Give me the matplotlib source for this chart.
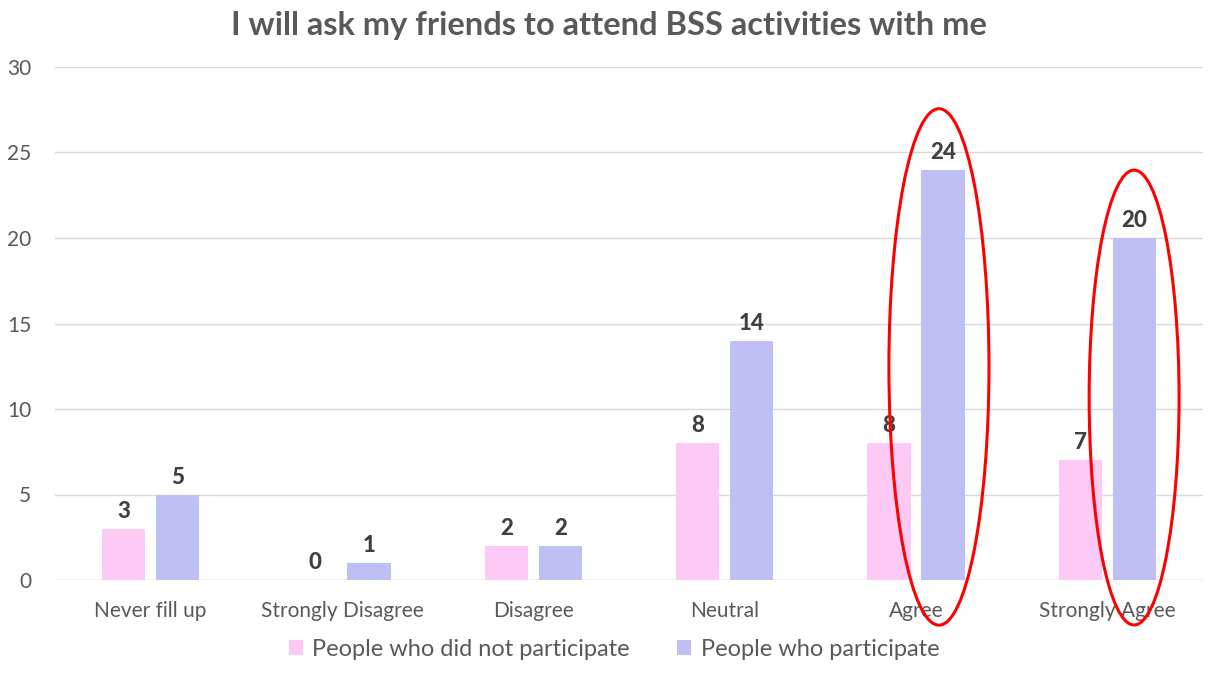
import matplotlib
matplotlib.use("Agg")
import matplotlib.pyplot as plt
from matplotlib.patches import Ellipse
import numpy as np

categories = ["Never fill up", "Strongly Disagree", "Disagree", "Neutral", "Agree", "Strongly Agree"]
not_participate = [3, 0, 2, 8, 8, 7]
participate = [5, 1, 2, 14, 24, 20]
series_names = ["People who did not participate", "People who participate"]
yticks = [0, 5, 10, 15, 20, 25, 30]

plt.rcParams['font.family'] = ['Lato', 'DejaVu Sans']

fig = plt.figure(figsize=(12.14, 6.75), dpi=100)
ax = fig.add_axes([55/1214, 1 - 580/675, 1148/1214, 513/675])

x = np.arange(len(categories))
w = 0.225
off = 0.141
pink = "#FCCAF5"
purple = "#BFBFF3"
b1 = ax.bar(x - off, not_participate, w, color=pink, label=series_names[0], zorder=3)
b2 = ax.bar(x + off, participate, w, color=purple, label=series_names[1], zorder=3)

for bars, vals in ((b1, not_participate), (b2, participate)):
    for r, v in zip(bars, vals):
        ax.annotate(str(v), (r.get_x() + r.get_width() / 2, v), xytext=(0, 5),
                    textcoords="offset points", ha="center", va="bottom",
                    fontsize=16, fontweight="black", color="#404040", zorder=5)

ax.set_xlim(-0.5, len(categories) - 0.5)
ax.set_ylim(0, 30)
ax.set_yticks(yticks)
ax.set_xticks(x)
ax.set_xticklabels(categories)
ax.tick_params(axis="both", length=0, labelsize=15, labelcolor="#595959")
ax.tick_params(axis="x", pad=15)
ax.tick_params(axis="y", pad=17)
for lab in ax.get_yticklabels():
    lab.set_horizontalalignment("right")
ax.grid(axis="y", color="#D9D9D9", linewidth=1, zorder=0)
for s in ax.spines.values():
    s.set_visible(False)
ax.axhline(0, color="#D9D9D9", linewidth=1, zorder=1)

fig.text(609/1214, 1 - 25/675, "I will ask my friends to attend BSS activities with me",
         ha="center", va="center", fontsize=23.5, fontweight="bold", color="#595959")

leg = fig.legend(handles=[b1, b2], labels=series_names, loc="center",
                 bbox_to_anchor=(614/1214, 1 - 649/675), ncol=2, frameon=False,
                 fontsize=17, handlelength=0.6, handleheight=0.6, handletextpad=0.4,
                 columnspacing=2.0)
for t in leg.get_texts():
    t.set_color("#595959")

# red highlight ellipses
e1 = Ellipse((4.12, 12.46), 0.523, 30.2, fill=False, edgecolor="red", linewidth=2.2,
             clip_on=False, zorder=6)
e2 = Ellipse((5.14, 10.67), 0.47, 26.6, fill=False, edgecolor="red", linewidth=2.2,
             clip_on=False, zorder=6)
ax.add_patch(e1)
ax.add_patch(e2)

fig.savefig("out.png", dpi=100, facecolor="white")
